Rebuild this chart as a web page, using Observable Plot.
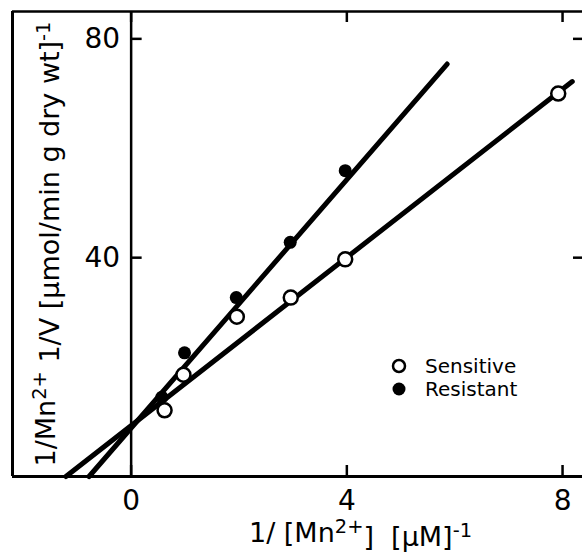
<!DOCTYPE html>
<html>
<head>
<meta charset="utf-8">
<script src="https://cdn.jsdelivr.net/npm/d3@7"></script>
<script src="https://cdn.jsdelivr.net/npm/@observablehq/plot@0.6"></script>
<style>
  html, body { margin: 0; padding: 0; background: #fff; }
  #wrap { position: relative; width: 582px; height: 552px; overflow: hidden; font-family: "DejaVu Sans", sans-serif; }
  #legend { position: absolute; left: 391px; top: 354px; font-size: 20px; color: #000; }
  #legend .row { display: flex; align-items: center; height: 23px; }
  #legend svg { width: 16px; height: 16px; margin-right: 18px; }
</style>
</head>
<body>
<div id="wrap"><div id="legend"></div></div>
<script>
// ---- data ----
const sensitiveX = [0.62, 0.97, 1.96, 2.96, 3.97, 7.92];
const sensitiveY = [12.1, 18.6, 29.2, 32.7, 39.7, 70.0];
const resistantX = [0.57, 0.99, 1.95, 2.95, 3.97];
const resistantY = [14.5, 22.6, 32.7, 42.8, 55.9];
// fitted lines (end points as drawn)
const sensitiveFitX = [-1.21, 8.18];
const sensitiveFitY = [0, 72.2];
const resistantFitX = [-0.78, 5.86];
const resistantFitY = [0, 75.4];
const xTicks = [0, 4, 8];
const yTicks = [40, 80];
const xDomain = [-2.20, 8.37];
const yDomain = [0, 85.0];
const seriesNames = ["Sensitive", "Resistant"];
const xTitleParts = [["1/ [Mn", false], ["2+", true], ["]  [μM]", false], ["-1", true]];
const yTitleParts = [["1/Mn", false], ["2+", true], [" 1/V [μmol/min g dry wt]", false], ["-1", true]];

// ---- build tables ----
const sensitive = sensitiveX.map((x, i) => ({x, y: sensitiveY[i]}));
const resistant = resistantX.map((x, i) => ({x, y: resistantY[i]}));
const sensitiveFit = sensitiveFitX.map((x, i) => ({x, y: sensitiveFitY[i]}));
const resistantFit = resistantFitX.map((x, i) => ({x, y: resistantFitY[i]}));
const xTitle = xTitleParts.map(p => p[0]).join("");
const yTitle = yTitleParts.map(p => p[0]).join("");

const W = 582, H = 552;
const mL = 12, mR = 0, mT = 11, mB = 76;
const plotW = W - mL - mR, plotH = H - mT - mB;
const x0off = (0 - xDomain[0]) / (xDomain[1] - xDomain[0]) * plotW;
const font = "DejaVu Sans, sans-serif";

const chart = Plot.plot({
  width: W, height: H,
  marginLeft: mL, marginRight: mR, marginTop: mT, marginBottom: mB,
  style: {fontFamily: font, color: "#000", background: "#fff"},
  x: {domain: xDomain, axis: null},
  y: {domain: yDomain, axis: null},
  marks: [
    // frame (left, top, bottom) and y axis line at x = 0
    Plot.ruleX([xDomain[0]], {stroke: "#000", strokeWidth: 3}),
    Plot.ruleY([yDomain[0]], {stroke: "#000", strokeWidth: 3}),
    Plot.ruleY([yDomain[1]], {stroke: "#000", strokeWidth: 2.5}),
    Plot.ruleX([0], {stroke: "#000", strokeWidth: 2.5}),
    // inward ticks
    Plot.tickX(xTicks, {x: d => d, insetTop: plotH - 11, stroke: "#000", strokeWidth: 2.5}),
    Plot.tickX(xTicks, {x: d => d, insetBottom: plotH - 11, stroke: "#000", strokeWidth: 2.5}),
    Plot.tickY(yTicks, {y: d => d, insetLeft: x0off, insetRight: plotW - x0off - 11, stroke: "#000", strokeWidth: 2.5}),
    Plot.tickY(yTicks, {y: d => d, insetLeft: plotW - 9, stroke: "#000", strokeWidth: 2.5}),
    // tick labels
    Plot.text(yTicks, {x: 0, y: d => d, text: d => String(d), dx: -11, textAnchor: "end", lineAnchor: "middle", fontSize: 28, fill: "#000"}),
    Plot.text(xTicks, {x: d => d, text: d => String(d), frameAnchor: "bottom", dy: 25, lineAnchor: "middle", fontSize: 28, fill: "#000"}),
    // axis titles
    Plot.text([xTitle], {text: d => d, frameAnchor: "bottom", textAnchor: "middle", dx: 63, dy: 57, lineAnchor: "middle", fontSize: 27, fill: "#000"}),
    Plot.text([yTitle], {text: d => d, frameAnchor: "left", textAnchor: "middle", dx: 34, rotate: -90, lineAnchor: "middle", fontSize: 27, fill: "#000"}),
    // fitted lines
    Plot.line(sensitiveFit, {x: "x", y: "y", stroke: "#000", strokeWidth: 5, strokeLinecap: "round"}),
    Plot.line(resistantFit, {x: "x", y: "y", stroke: "#000", strokeWidth: 5, strokeLinecap: "round"}),
    // data points
    Plot.dot(resistant, {x: "x", y: "y", r: 6.5, fill: "#000", stroke: "none"}),
    Plot.dot(sensitive, {x: "x", y: "y", r: 7, fill: "#fff", stroke: "#000", strokeWidth: 2.5})
  ]
});

// superscripts in the axis titles
function supify(svg, full, parts) {
  d3.select(svg).selectAll("text").each(function() {
    if (this.textContent !== full) return;
    const t = d3.select(this);
    t.text(null);
    let raised = false;
    parts.forEach(([s, sup]) => {
      const ts = t.append("tspan").text(s);
      if (sup && !raised) { ts.attr("dy", "-0.45em").attr("font-size", "72%"); raised = true; }
      else if (sup) { ts.attr("font-size", "72%"); }
      else if (raised) { ts.attr("dy", "0.45em"); raised = false; }
    });
  });
}
supify(chart, xTitle, xTitleParts);
supify(chart, yTitle, yTitleParts);

document.getElementById("wrap").prepend(chart);

// legend
const legend = d3.select("#legend");
seriesNames.forEach((name, i) => {
  const row = legend.append("div").attr("class", "row");
  const s = row.append("svg").attr("viewBox", "0 0 16 16");
  if (i === 0) s.append("circle").attr("cx", 8).attr("cy", 8).attr("r", 6).attr("fill", "#fff").attr("stroke", "#000").attr("stroke-width", 2.5);
  else s.append("circle").attr("cx", 8).attr("cy", 8).attr("r", 6.5).attr("fill", "#000");
  row.append("span").text(name);
});
</script>
</body>
</html>
